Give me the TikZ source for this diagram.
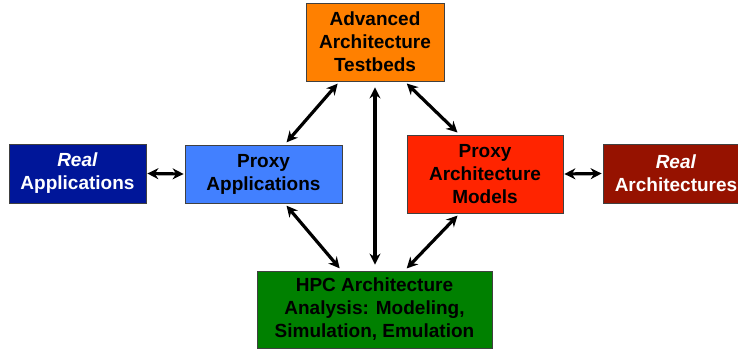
\documentclass[tikz,border=0pt]{standalone}
\usepackage{fontspec}
\setmainfont{Liberation Sans}
\usepackage{xcolor}
\usetikzlibrary{arrows.meta}

\definecolor{realapp}{RGB}{0,22,153}
\definecolor{proxyapp}{RGB}{66,128,255}
\definecolor{testbed}{RGB}{255,128,0}
\definecolor{proxyarch}{RGB}{255,36,0}
\definecolor{realarch}{RGB}{150,18,0}
\definecolor{hpcgreen}{RGB}{0,128,0}

\begin{document}
\begin{tikzpicture}
[x=1pt, y=-1pt,
box/.style={rectangle, draw=black!75, line width=.8pt, inner sep=0pt, align=center,
  font=\bfseries\fontsize{19}{23}\selectfont},
link/.style={{Stealth[length=11pt,width=11pt]}-{Stealth[length=11pt,width=11pt]}, line width=3.2pt, shorten <=3pt, shorten >=3pt},
]
\useasboundingbox (0,0) rectangle (738,351);

\node[box, fill=realapp, text=white, minimum width=137pt, minimum height=59pt] (rapp) at (77.5,173.5) {\textit{Real}\\Applications};
\node[box, fill=proxyapp, minimum width=157pt, minimum height=58pt] (papp) at (263.5,174) {Proxy\\Applications};
\node[box, fill=testbed, minimum width=138pt, minimum height=78pt] (test) at (375,42) {Advanced\\Architecture\\Testbeds};
\node[box, fill=proxyarch, minimum width=156pt, minimum height=78pt] (parch) at (485,174) {Proxy\\Architecture\\Models};
\node[box, fill=realarch, text=white, minimum width=146pt, minimum height=59pt] (rarch) at (676,173.5) {\textit{Real}\\Architectures};
\node[box, fill=hpcgreen, minimum width=235pt, minimum height=77pt] (hpc) at (374.5,309.5) {HPC Architecture\\Analysis: Modeling,\\Simulation, Emulation};

\draw[link, shorten <=1pt, shorten >=1pt] (rapp.east) -- (papp.west);
\draw[link, shorten <=1pt, shorten >=1pt] (parch.east) -- (rarch.west);
\draw[link] ([xshift=100pt]papp.north west) -- ([xshift=34pt]test.south west);
\draw[link] ([xshift=99pt]test.south west) -- ([xshift=53pt]parch.north west);
\draw[link, shorten <=6pt, shorten >=6pt] (test.south) -- (test.south |- hpc.north); % centre line
\draw[link] ([xshift=100pt]papp.south west) -- ([xshift=85pt]hpc.north west);
\draw[link] ([xshift=53pt]parch.south west) -- ([xshift=148pt]hpc.north west);
\end{tikzpicture}
\end{document}
